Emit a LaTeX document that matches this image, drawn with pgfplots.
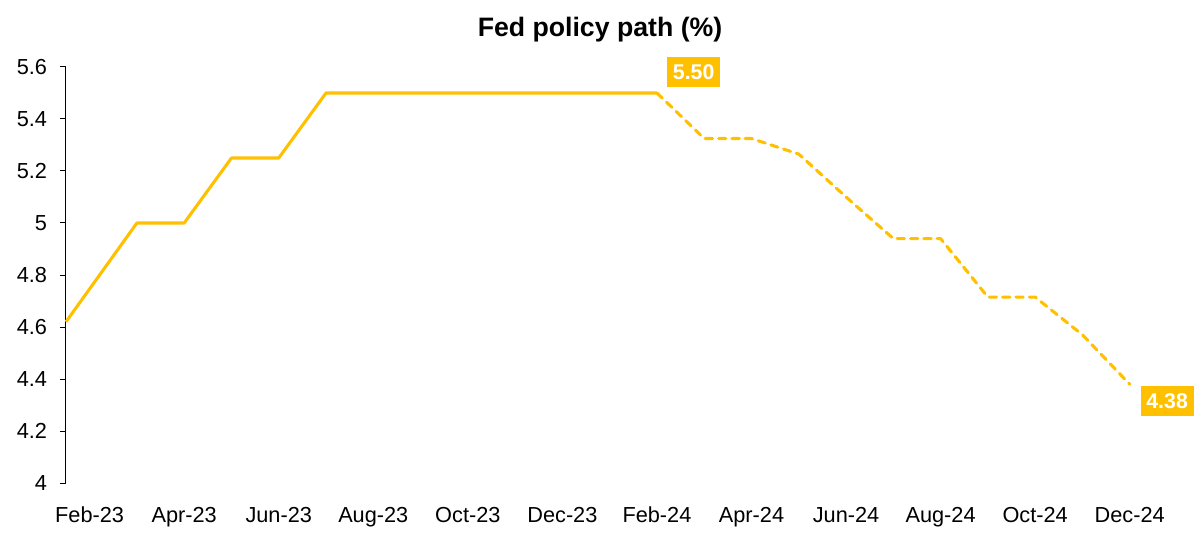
\documentclass[border=0pt]{standalone}
\usepackage{fontspec}
\setmainfont{Liberation Sans}
\usepackage{pgfplots}
\pgfplotsset{compat=1.18}
\definecolor{gold}{HTML}{FFC000}
\begin{document}
\begin{tikzpicture}
\useasboundingbox (0pt,0pt) rectangle (900pt,405pt);
\begin{axis}[
  at={(49.5pt,42.75pt)}, anchor=south west,
  scale only axis, width=815.5pt, height=312pt,
  xmin=-0.5, xmax=22.5, ymin=4, ymax=5.6,
  clip=false,
  axis x line*=bottom,
  axis y line*=left,
  x axis line style={draw=none},
  y axis line style={line width=0.75pt, black},
  xtick={0,2,...,22},
  xticklabels={Feb-23,Apr-23,Jun-23,Aug-23,Oct-23,Dec-23,Feb-24,Apr-24,Jun-24,Aug-24,Oct-24,Dec-24},
  ytick={4,4.2,4.4,4.6,4.8,5,5.2,5.4,5.6},
  tick align=outside,
  major tick length=4.5pt,
  xtick style={draw=none},
  ytick style={line width=0.75pt, black},
  /pgf/number format/assume math mode=true,
  ticklabel style={font=\fontsize{16.3}{19}\selectfont, text=black},
  yticklabel style={anchor=east, inner sep=0pt, xshift=-9.5pt},
  xticklabel style={anchor=base, inner sep=0pt, yshift=-25pt},
]
\addplot[gold, line width=2.3pt, line join=round] coordinates {
  (-0.5,4.62) (1,5.0) (2,5.0) (3,5.25) (4,5.25) (5,5.5) (6,5.5) (7,5.5) (8,5.5) (9,5.5) (10,5.5) (11,5.5) (12,5.5)
};
\addplot[gold, line width=2.3pt, line join=round, line cap=round, dash pattern=on 5.5pt off 4.5pt] coordinates {
  (12,5.5) (13,5.325) (14,5.325) (15,5.265) (16,5.10) (17,4.94) (18,4.94) (19,4.715) (20,4.715) (21,4.57) (22,4.38)
};
\node[fill=gold, text=white, font=\fontsize{16}{19}\selectfont\bfseries, inner xsep=4.3pt, inner ysep=0pt, minimum height=22.5pt, anchor=south west, xshift=7.5pt, yshift=4.5pt] at (axis cs:12,5.5) {5.50};
\node[fill=gold, text=white, font=\fontsize{16}{19}\selectfont\bfseries, inner xsep=4.3pt, inner ysep=0pt, minimum height=22.5pt, anchor=north west, xshift=8pt, yshift=-1.5pt] at (axis cs:22,4.38) {4.38};
\end{axis}
\node[anchor=base, font=\fontsize{20}{24}\selectfont\bfseries] at (450pt,377.25pt) {Fed policy path (\%)};
\end{tikzpicture}
\end{document}
